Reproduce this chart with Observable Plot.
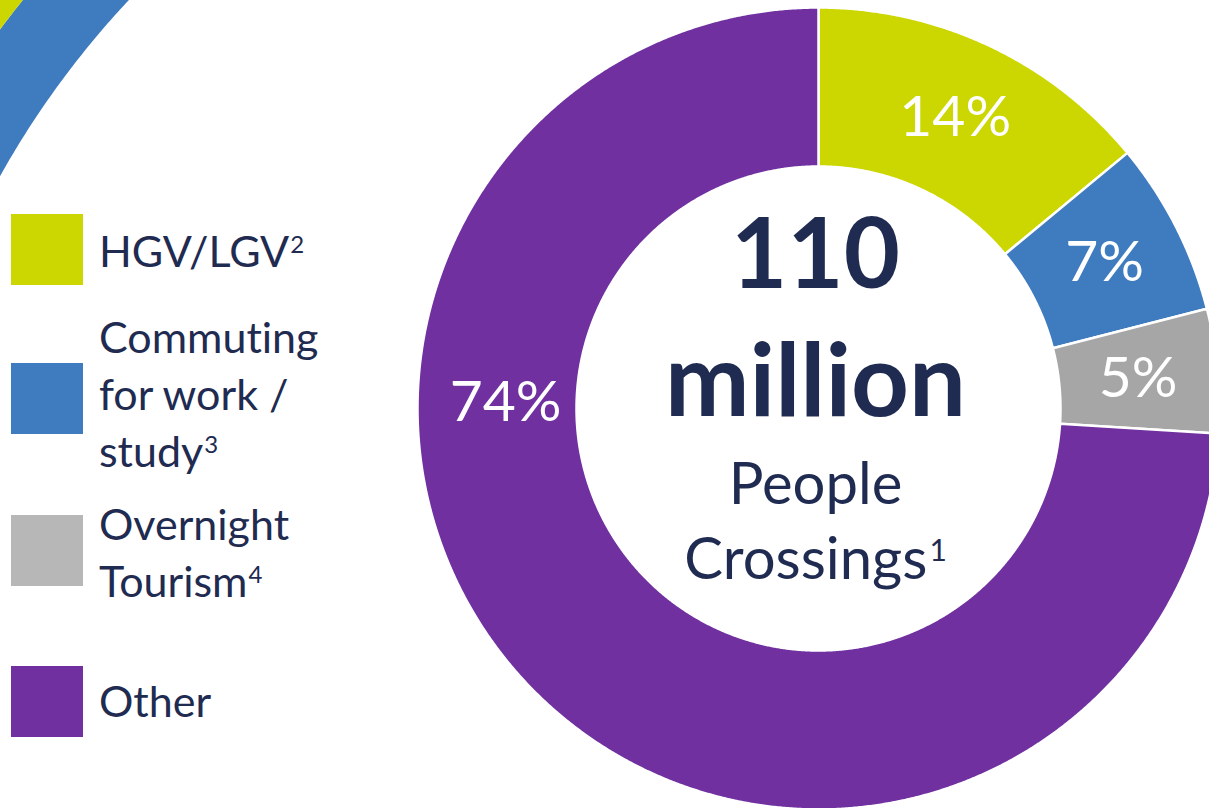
<!DOCTYPE html>
<html>
<head>
<meta charset="utf-8">
<script src="https://cdn.jsdelivr.net/npm/d3@7"></script>
<script src="https://cdn.jsdelivr.net/npm/@observablehq/plot@0.6"></script>
<style>
  html, body { margin: 0; padding: 0; background: #fff; overflow: hidden; }
  #wrap { position: relative; width: 1209px; height: 808px; overflow: hidden; font-family: Lato, "Open Sans", sans-serif; font-variant-ligatures: none; }
  #chart { position: absolute; left: 0; top: 0; }
  #chart text { font-variant-ligatures: none; }
  .swatch { position: absolute; left: 11px; width: 72px; height: 71px; }
  .ltext { position: absolute; left: 99px; font-size: 43px; line-height: 57px; color: #1f2b50; white-space: nowrap; }
  .ltext sup { font-size: 24px; vertical-align: 14px; line-height: 0; margin-left: 1px; }
</style>
</head>
<body>
<div id="wrap"><div id="chart"></div><div id="legend"></div></div>
<script>
// ---------- data ----------
const categories = ["HGV/LGV", "Commuting for work / study", "Overnight Tourism", "Other"];
const shares = [14, 7, 5, 74];
const shareLabels = ["14%", "7%", "5%", "74%"];
const sliceColors = ["#CCD600", "#3F7BBF", "#A6A6A6", "#7030A0"];
const legendSwatchColors = ["#CCD600", "#3F7BBF", "#B7B7B7", "#7030A0"];
const legendLines = [["HGV/LGV"], ["Commuting", "for work /", "study"], ["Overnight", "Tourism"], ["Other"]];
const legendNotes = ["2", "3", "4", ""];
const centerLines = ["110", "million", "People", "Crossings"];
const centerNote = "1";

// ---------- layout (not data) ----------
const W = 1209, H = 808;
const layout = {
  cx: 818, cy: 408, rOuter: 401, rInner: 242, sep: 2.5,
  labelR: 321, labelSize: 57,
  otherLabel: { angleDeg: 271, r: 313 },
  decor: { cx: 785, cy: 615, a0: 280, a1: 340,
           bands: [{ r0: 900, r1: 980, color: "#3F7BBF" }, { r0: 980, r1: 1150, color: "#CCD600" }] },
  swatchTops: [214, 363, 515, 666],
  textTops: [222, 308, 495, 672],
  centerX: 815,
  centerBaselines: [287, 415, 503, 578],
  centerSizes: [97, 101, 58, 58],
  centerBold: [true, true, false, false],
  ink: "#1f2b50"
};

const rad = d => d * Math.PI / 180;
function ring(cx, cy, r0, r1, a0, a1, key, color) {
  const pts = [];
  const n = Math.max(2, Math.ceil((a1 - a0) / rad(0.25)));
  for (let i = 0; i <= n; i++) {
    const a = a0 + (a1 - a0) * i / n;
    pts.push({ x: cx + r1 * Math.sin(a), y: cy - r1 * Math.cos(a), key, color });
  }
  for (let i = n; i >= 0; i--) {
    const a = a0 + (a1 - a0) * i / n;
    pts.push({ x: cx + r0 * Math.sin(a), y: cy - r0 * Math.cos(a), key, color });
  }
  return pts;
}

const rows = categories.map((c, i) => ({ category: c, share: shares[i], label: shareLabels[i], color: sliceColors[i] }));
const arcs = d3.pie().sort(null).value(d => d.share)(rows);

const slicePts = arcs.flatMap(a => ring(layout.cx, layout.cy, layout.rInner, layout.rOuter, a.startAngle, a.endAngle, a.data.category, a.data.color));

const D = layout.decor;
const decorPts = D.bands.flatMap((b, i) => ring(D.cx, D.cy, b.r0, b.r1, rad(D.a0), rad(D.a1), "decor" + i, b.color));

const labelRows = arcs.map(a => {
  let ang = (a.startAngle + a.endAngle) / 2, r = layout.labelR;
  if (a.data.category === "Other") { ang = rad(layout.otherLabel.angleDeg); r = layout.otherLabel.r; }
  return { text: a.data.label, x: layout.cx + r * Math.sin(ang), y: layout.cy - r * Math.cos(ang) };
});

const centerRows = centerLines.map((t, i) => ({ text: t, x: layout.centerX, y: layout.centerBaselines[i], size: layout.centerSizes[i], bold: layout.centerBold[i] }));

const chart = Plot.plot({
  width: W, height: H, margin: 0,
  style: { fontFamily: "Lato, 'Open Sans', sans-serif", background: "transparent", overflow: "hidden" },
  x: { domain: [0, W], range: [0, W], axis: null },
  y: { domain: [0, H], range: [0, H], axis: null },
  color: { type: "identity" },
  marks: [
    Plot.line(decorPts, { x: "x", y: "y", z: "key", fill: "color", stroke: null, curve: "linear-closed" }),
    Plot.line(slicePts, { x: "x", y: "y", z: "key", fill: "color", stroke: "white", strokeWidth: layout.sep, curve: "linear-closed" }),
    Plot.text(labelRows, { x: "x", y: "y", text: "text", fill: "white", fontSize: layout.labelSize, fontFamily: "Lato" }),
    Plot.text(centerRows.filter(d => d.bold), { x: "x", y: "y", text: "text", fontSize: "size", fontWeight: 700, fill: layout.ink, lineAnchor: "bottom", fontFamily: "Lato" }),
    Plot.text(centerRows.filter(d => !d.bold), { x: "x", y: "y", text: "text", fontSize: "size", fontWeight: 400, fill: layout.ink, lineAnchor: "bottom", fontFamily: "Lato" })
  ]
});
document.getElementById("chart").appendChild(chart);

// superscript note on the last centre line
chart.querySelectorAll("text").forEach(t => {
  if (t.textContent === "Crossings") {
    const ts = document.createElementNS("http://www.w3.org/2000/svg", "tspan");
    ts.setAttribute("font-size", "30");
    ts.setAttribute("dy", "-18");
    ts.setAttribute("dx", "2");
    ts.textContent = centerNote;
    t.appendChild(ts);
  }
});

// legend
const legend = document.getElementById("legend");
categories.forEach((c, i) => {
  const sw = document.createElement("div");
  sw.className = "swatch";
  sw.style.top = layout.swatchTops[i] + "px";
  sw.style.background = legendSwatchColors[i];
  legend.appendChild(sw);
  const tx = document.createElement("div");
  tx.className = "ltext";
  tx.style.top = layout.textTops[i] + "px";
  const lines = legendLines[i];
  lines.forEach((ln, j) => {
    const line = document.createElement("div");
    line.textContent = ln;
    if (j === lines.length - 1 && legendNotes[i]) {
      const s = document.createElement("sup");
      s.textContent = legendNotes[i];
      line.appendChild(s);
    }
    tx.appendChild(line);
  });
  legend.appendChild(tx);
});
</script>
</body>
</html>
